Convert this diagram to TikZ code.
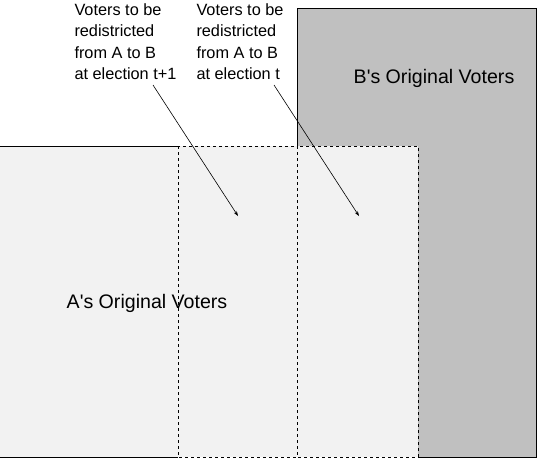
\documentclass[tikz,border=0pt]{standalone}
\usepackage{fontspec}
\setmainfont{Liberation Sans}
\usetikzlibrary{arrows.meta}
\definecolor{lightA}{HTML}{F2F2F2}
\definecolor{greyB}{HTML}{C0C0C0}
\tikzset{
	notetext/.style={font=\fontsize{16.3}{21.3}\selectfont, align=left, inner sep=0pt, anchor=north west},
	regiontext/.style={font=\fontsize{19.6}{24}\selectfont, inner sep=0pt, anchor=base}
}
\begin{document}
\begin{tikzpicture}[x=1pt, y=-1pt, line width=1pt]
		% Frame
		\useasboundingbox (0,0) rectangle (540,459);
		
		% A's region
		\fill[lightA] (0,146) rectangle (297,457);
		\draw (178,146) -- (0,146);
		\draw (0,457) -- (178,457);
		
		% B's region
		\fill[greyB] (297,8) rectangle (536,457);
		\draw (297,146) -- (297,8) -- (536,8) -- (536,457) -- (418,457);
		
		% Strips to be redistricted
		\foreach \a/\b in {178/297, 297/418}
		\draw[dash pattern=on 3pt off 3pt, fill=lightA, line width=0.8pt] (\a,146) rectangle (\b,457);
		
		% Labels
		\node[regiontext] (Alabel) at (147,308) {A\textquotesingle s Original Voters};
		\node[regiontext] (Blabel) at (434,83) {B\textquotesingle s Original Voters};
		\node[notetext] (next) at (74,3.3) {Voters to be\\redistricted\\from A to B\\at election t+1};
		\node[notetext] (now) at (196,3.3) {Voters to be\\redistricted\\from A to B\\at election t};
		
		% Arrows
		\coordinate (nextfrom) at (153,85);
		\coordinate (nextto) at (238,216);
		\coordinate (nowfrom) at (274,85);
		\coordinate (nowto) at (359,216);
		\draw[-{Stealth[length=5pt, width=3.5pt]}, line width=0.6pt] (nextfrom) -- (nextto);
		\draw[-{Stealth[length=5pt, width=3.5pt]}, line width=0.6pt] (nowfrom) -- (nowto);
\end{tikzpicture}
\end{document}
